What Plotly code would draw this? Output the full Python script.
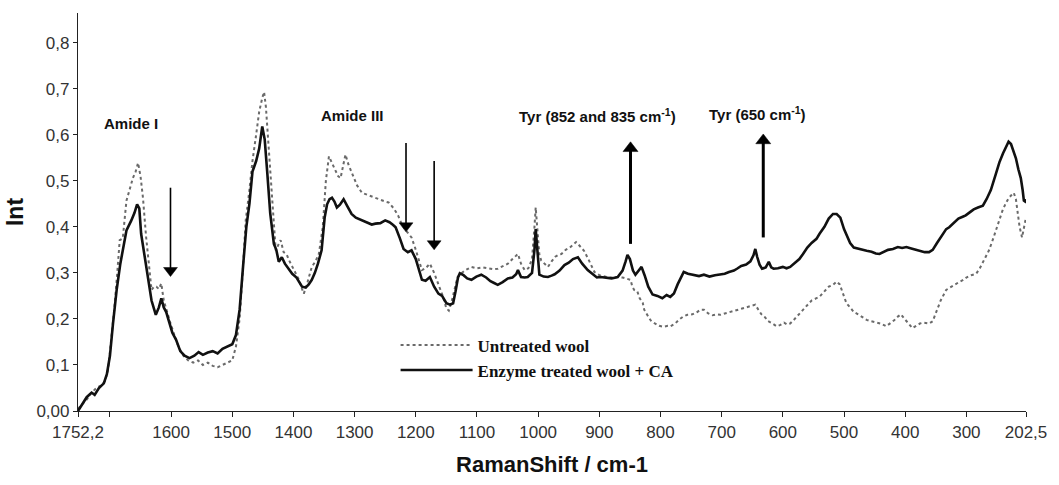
import plotly.graph_objects as go

# ---------------- data ----------------
treated_x = [1752.2, 1745, 1738, 1730, 1725, 1718, 1710, 1705, 1700, 1695, 1689, 1683, 1678, 1673, 1665, 1660,
             1655.6, 1652, 1649, 1643, 1638, 1632, 1625, 1620, 1616, 1612, 1608, 1603, 1598, 1592, 1585, 1578,
             1570, 1562, 1555, 1548, 1540, 1532, 1524, 1516, 1508, 1500, 1494, 1488, 1482, 1477, 1472, 1467,
             1461, 1456, 1451, 1447, 1443, 1438, 1432, 1428, 1424, 1419, 1414, 1408, 1402, 1395, 1390, 1386,
             1380, 1375, 1370, 1365, 1360, 1354, 1349, 1345, 1341, 1337, 1333, 1329, 1324, 1318, 1312, 1305,
             1298, 1288, 1280, 1272, 1266, 1258, 1250, 1243, 1237, 1233, 1226, 1220, 1213, 1207, 1200, 1195,
             1190, 1184, 1177, 1170, 1163, 1157, 1150, 1144, 1139, 1135, 1131, 1128, 1122, 1116, 1109, 1101,
             1093, 1085, 1078, 1072, 1066, 1058, 1049.5, 1042, 1036, 1033, 1028, 1022, 1017, 1010, 1006, 1004,
             1001, 998, 991, 984, 978, 973, 965, 957, 950, 943, 935, 928, 919, 910, 904, 898, 890, 880, 870,
             862, 857, 854, 850, 845, 841, 836, 831, 826, 820, 813, 805, 797, 790, 784, 778, 772, 767, 762,
             755, 745, 737, 729, 720, 711, 702, 695, 688, 680, 675, 668, 660, 653, 648, 645, 642, 638, 634,
             628, 623, 619, 615, 608, 600, 594, 588, 580, 573, 567, 560, 553, 545, 540, 532, 525, 518, 512,
             506, 500, 496, 490, 484, 476, 470, 463, 455, 448, 442, 435, 428, 420, 412, 405, 398, 390, 382,
             375, 368, 361, 355, 348, 340, 333, 328, 320, 313, 306, 301, 294, 288, 281, 273, 267, 260, 252,
             246, 240, 235, 231, 227, 223, 219, 215, 211, 208, 206, 204, 202.5]
treated_y = [0.00, 0.015, 0.03, 0.04, 0.035, 0.05, 0.06, 0.08, 0.12, 0.19, 0.263, 0.32, 0.36, 0.392, 0.414, 0.43,
             0.449, 0.44, 0.385, 0.33, 0.291, 0.24, 0.209, 0.225, 0.245, 0.225, 0.215, 0.191, 0.17, 0.155, 0.13, 0.12,
             0.115, 0.12, 0.128, 0.122, 0.127, 0.13, 0.125, 0.135, 0.14, 0.145, 0.165, 0.22, 0.32, 0.40, 0.45, 0.52,
             0.543, 0.57, 0.618, 0.59, 0.521, 0.43, 0.363, 0.35, 0.324, 0.334, 0.32, 0.31, 0.298, 0.29, 0.28, 0.27,
             0.268, 0.275, 0.285, 0.30, 0.32, 0.349, 0.42, 0.449, 0.46, 0.463, 0.455, 0.442, 0.448, 0.46, 0.445, 0.428,
             0.42, 0.414, 0.41, 0.405, 0.407, 0.408, 0.414, 0.41, 0.404, 0.399, 0.375, 0.352, 0.345, 0.349, 0.33, 0.305,
             0.285, 0.283, 0.291, 0.27, 0.255, 0.25, 0.234, 0.231, 0.234, 0.26, 0.29, 0.299, 0.295, 0.288, 0.285, 0.292,
             0.296, 0.29, 0.282, 0.278, 0.274, 0.28, 0.288, 0.29, 0.297, 0.306, 0.291, 0.29, 0.291, 0.30, 0.35, 0.395,
             0.34, 0.296, 0.292, 0.291, 0.294, 0.297, 0.305, 0.317, 0.322, 0.33, 0.334, 0.32, 0.306, 0.296, 0.29, 0.291, 0.29, 0.288, 0.291,
             0.305, 0.325, 0.339, 0.33, 0.305, 0.296, 0.305, 0.313, 0.295, 0.27, 0.253, 0.25, 0.245, 0.252, 0.248, 0.255, 0.275, 0.29, 0.302,
             0.298, 0.295, 0.293, 0.296, 0.292, 0.295, 0.296, 0.298, 0.302, 0.305, 0.309, 0.315, 0.318, 0.325, 0.338, 0.352, 0.335, 0.318, 0.309,
             0.312, 0.324, 0.312, 0.309, 0.31, 0.313, 0.31, 0.313, 0.322, 0.33, 0.341, 0.355, 0.365, 0.374, 0.385, 0.40, 0.418, 0.428, 0.428,
             0.42, 0.395, 0.382, 0.365, 0.355, 0.352, 0.35, 0.348, 0.346, 0.342, 0.341, 0.346, 0.35, 0.352, 0.356, 0.354, 0.356, 0.353, 0.35,
             0.347, 0.345, 0.345, 0.35, 0.365, 0.382, 0.395, 0.399, 0.41, 0.418, 0.422, 0.425, 0.432, 0.438, 0.442, 0.446, 0.46, 0.48, 0.514,
             0.54, 0.56, 0.575, 0.585, 0.58, 0.565, 0.549, 0.525, 0.506, 0.48, 0.457, 0.455, 0.46]

untreated_x = [1752.2, 1745, 1738, 1730, 1722, 1715, 1708, 1703, 1698, 1693, 1688, 1684, 1679, 1673, 1668, 1662.5,
               1658, 1654, 1650, 1646, 1641, 1636, 1632, 1628, 1624, 1620, 1616, 1612, 1608, 1602, 1594, 1588,
               1580, 1572, 1564, 1556, 1548, 1540, 1532, 1524, 1516, 1508, 1500, 1494, 1488, 1483, 1478, 1472,
               1467, 1461, 1456, 1451, 1448, 1445, 1441, 1437, 1433, 1429, 1425, 1421, 1416, 1411, 1407, 1400,
               1391, 1386, 1383, 1377, 1370, 1364, 1358.5, 1352, 1347, 1342, 1336, 1331, 1327, 1323, 1319, 1315,
               1310, 1304, 1296, 1288, 1280, 1272, 1266, 1258, 1250, 1244.5, 1236, 1229, 1223, 1215, 1207, 1200,
               1195, 1190, 1184, 1177, 1170, 1163, 1156, 1150, 1146, 1141, 1136, 1132, 1128, 1120, 1109, 1100,
               1090, 1080, 1073, 1066, 1058, 1049.5, 1042, 1036, 1033, 1028, 1022, 1016, 1010, 1006, 1004, 1001,
               998, 995, 990, 984, 978, 972, 966, 962, 955, 948, 942, 938, 933, 929, 925, 918, 913, 908, 900,
               892, 885, 878, 870, 862, 856, 849, 846, 843, 838, 834, 829, 826.6, 820, 815, 810, 802, 795, 788,
               784, 776, 770, 763, 756, 748, 740, 735, 729, 722, 715, 708, 702, 695, 688, 681, 675, 668, 660,
               652, 645, 640, 635, 630, 624, 617, 610, 604, 598, 593, 588, 582, 575, 567, 560, 553, 545, 540,
               532, 525, 518, 512, 507, 502, 496, 490, 484, 477, 470, 463, 456, 448, 440, 431, 424, 418, 412,
               407, 401, 395, 388, 382, 376, 370, 361, 355, 348, 342, 333, 325, 318, 312, 306, 300, 292, 284,
               278, 272, 263, 256, 250, 245, 241, 236, 231, 227, 222.5, 219, 216, 213, 209, 206, 203, 202.5]
untreated_y = [0.005, 0.015, 0.025, 0.04, 0.05, 0.055, 0.065, 0.09, 0.15, 0.22, 0.30, 0.371, 0.375, 0.457, 0.48, 0.506,
               0.52, 0.539, 0.51, 0.463, 0.38, 0.31, 0.263, 0.27, 0.27, 0.265, 0.277, 0.24, 0.22, 0.195, 0.162, 0.14,
               0.12, 0.11, 0.105, 0.11, 0.10, 0.105, 0.098, 0.095, 0.10, 0.105, 0.11, 0.14, 0.20, 0.30, 0.414, 0.48,
               0.543, 0.60, 0.65, 0.68, 0.693, 0.66, 0.58, 0.506, 0.42, 0.349, 0.36, 0.371, 0.345, 0.34, 0.327, 0.31,
               0.285, 0.265, 0.255, 0.28, 0.313, 0.325, 0.341, 0.40, 0.50, 0.553, 0.535, 0.521, 0.51, 0.506, 0.53, 0.557,
               0.535, 0.514, 0.49, 0.474, 0.47, 0.465, 0.463, 0.458, 0.455, 0.453, 0.44, 0.425, 0.406, 0.39, 0.377, 0.35,
               0.325, 0.306, 0.31, 0.32, 0.30, 0.277, 0.25, 0.223, 0.218, 0.24, 0.265, 0.29, 0.296, 0.305, 0.313, 0.31,
               0.312, 0.31, 0.308, 0.309, 0.315, 0.32, 0.33, 0.338, 0.341, 0.32, 0.306, 0.31, 0.33, 0.40, 0.442, 0.39,
               0.34, 0.327, 0.32, 0.313, 0.325, 0.335, 0.34, 0.341, 0.35, 0.355, 0.362, 0.367, 0.36, 0.355, 0.348, 0.33, 0.315, 0.302, 0.295,
               0.292, 0.29, 0.29, 0.291, 0.29, 0.288, 0.285, 0.27, 0.263, 0.26, 0.245, 0.235, 0.22, 0.205, 0.195, 0.191, 0.185, 0.183, 0.185,
               0.184, 0.19, 0.198, 0.205, 0.209, 0.21, 0.215, 0.22, 0.22, 0.212, 0.208, 0.21, 0.209, 0.212, 0.215, 0.218, 0.22, 0.222, 0.225,
               0.228, 0.231, 0.22, 0.21, 0.205, 0.195, 0.19, 0.184, 0.187, 0.192, 0.188, 0.19, 0.198, 0.208, 0.22, 0.23, 0.24, 0.245, 0.248,
               0.26, 0.27, 0.274, 0.281, 0.275, 0.255, 0.234, 0.225, 0.215, 0.21, 0.203, 0.198, 0.195, 0.192, 0.19, 0.184, 0.19, 0.197, 0.205,
               0.21, 0.2, 0.19, 0.18, 0.185, 0.19, 0.192, 0.19, 0.195, 0.22, 0.24, 0.263, 0.27, 0.275, 0.28, 0.284, 0.29, 0.295, 0.298,
               0.31, 0.325, 0.349, 0.375, 0.40, 0.42, 0.435, 0.45, 0.462, 0.468, 0.474, 0.46, 0.43, 0.40, 0.377, 0.395, 0.417, 0.41]

x_tickvals = [1752.2, 1600, 1500, 1400, 1300, 1200, 1100, 1000, 900, 800, 700, 600, 500, 400, 300, 202.5]
x_ticktext = ["1752,2", "1600", "1500", "1400", "1300", "1200", "1100", "1000", "900", "800", "700",
              "600", "500", "400", "300", "202,5"]
y_tickvals = [0, 0.1, 0.2, 0.3, 0.4, 0.5, 0.6, 0.7, 0.8]
y_ticktext = ["0,00", "0,1", "0,2", "0,3", "0,4", "0,5", "0,6", "0,7", "0,8"]

series_names = ["<b>Untreated wool</b>", "<b>Enzyme treated wool + CA</b>"]

# band annotations: label, wavenumber, intensity
band_labels = ["Amide I", "Amide III", "Tyr (852 and 835 cm<sup>-1</sup>)", "Tyr (650 cm<sup>-1</sup>)"]
band_label_x = [1665, 1303, 903, 641]
band_label_y = [0.625, 0.642, 0.642, 0.646]

# arrows: wavenumber, tail intensity, tip intensity
arrow_x = [1601, 1216, 1170, 849, 632]
arrow_tail = [0.485, 0.582, 0.543, 0.363, 0.377]
arrow_tip = [0.291, 0.388, 0.349, 0.586, 0.603]

# ---------------- figure ----------------
SANS = "Liberation Sans, Arial, sans-serif"
SERIF = "Liberation Serif, Times New Roman, serif"
PX = 1 / 465.0  # approx. intensity units per pixel

fig = go.Figure()
fig.add_trace(go.Scatter(x=untreated_x, y=untreated_y, mode="lines", name=series_names[0],
                         line=dict(color="#6a6a6a", width=2, dash="dot")))
fig.add_trace(go.Scatter(x=treated_x, y=treated_y, mode="lines", name=series_names[1],
                         line=dict(color="#111111", width=2.6)))

for t, x, y in zip(band_labels, band_label_x, band_label_y):
    fig.add_annotation(x=x, y=y, text="<b>" + t + "</b>", showarrow=False,
                       font=dict(family=SANS, size=15, color="#111"))

for x, ty, hy in zip(arrow_x, arrow_tail, arrow_tip):
    up = hy > ty
    size = 13 if up else 12
    w = 3 if up else 1.6
    off = 0.55 * size * PX
    head_c = hy - off if up else hy + off
    fig.add_trace(go.Scatter(
        x=[x, x], y=[ty, head_c], mode="lines+markers", showlegend=False, hoverinfo="skip",
        line=dict(color="#000", width=w),
        marker=dict(symbol=["circle", "triangle-up" if up else "triangle-down"], size=[0, size],
                    color="#000", opacity=1, line=dict(width=0.5, color="#000")),
    ))

fig.update_layout(
    width=1059, height=485, autosize=False,
    margin=dict(l=78, r=28, t=13, b=70),
    paper_bgcolor="white", plot_bgcolor="white",
    font=dict(family=SANS, size=17, color="#222"),
    showlegend=True,
    legend=dict(x=0.335, y=0.21, xanchor="left", yanchor="top",
                font=dict(family=SERIF, size=17, color="#111"),
                bgcolor="rgba(0,0,0,0)", itemwidth=72, tracegroupgap=0),
)
fig.update_xaxes(range=[1752.2, 202.5], tickmode="array", tickvals=x_tickvals, ticktext=x_ticktext,
                 minor=dict(ticks="outside", tick0=0, dtick=100, ticklen=5, tickcolor="#222"),
                 showgrid=False, zeroline=False, showline=True, linecolor="#222", linewidth=1.2,
                 ticks="outside", ticklen=5, tickcolor="#222", tickfont=dict(size=17, color="#333"),
                 title=dict(text="<b>RamanShift / cm-1</b>", font=dict(size=22, color="#111"), standoff=16))
fig.update_yaxes(range=[0, 0.8645], tickmode="array", tickvals=y_tickvals, ticktext=y_ticktext,
                 showgrid=False, zeroline=False, showline=True, linecolor="#222", linewidth=1.2,
                 ticks="outside", ticklen=4, tickcolor="#222", tickfont=dict(size=17, color="#333"),
                 title=dict(text="<b>Int</b>", font=dict(size=23, color="#111"), standoff=6))

fig.write_html("out.html")
